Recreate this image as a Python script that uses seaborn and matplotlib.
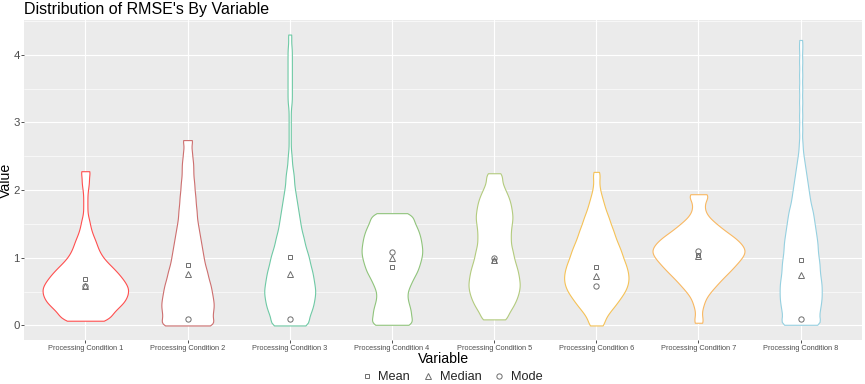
import numpy as np
import pandas as pd
import matplotlib
matplotlib.use("Agg")
import matplotlib.pyplot as plt
import seaborn as sns
from matplotlib.lines import Line2D

# --- data ---
conditions = ["Processing Condition 1", "Processing Condition 2", "Processing Condition 3",
              "Processing Condition 4", "Processing Condition 5", "Processing Condition 6",
              "Processing Condition 7", "Processing Condition 8"]
colors = ["#FF4F4F", "#CD6F6F", "#6FC9A5", "#90C47C", "#B3CB7E", "#F5C257", "#F9B862", "#96D0E0"]

# RMSE values (level, how many runs landed there) per condition
pc1_levels = [0.07, 0.15, 0.25, 0.35, 0.45, 0.55, 0.65, 0.75, 0.85, 0.95, 1.05, 1.15,
              1.25, 1.35, 1.45, 1.55, 1.65, 1.75, 1.85, 1.95, 2.05, 2.15, 2.28]
pc1_counts = [18, 23, 31, 38, 41, 42, 38, 33, 27, 20, 15, 12, 10, 7, 5, 4, 2, 2, 2, 2, 3, 4, 6]

pc2_levels = [0.0, 0.1, 0.2, 0.3, 0.4, 0.5, 0.6, 0.7, 0.8, 0.9, 1.0, 1.1, 1.2, 1.3,
              1.4, 1.5, 1.6, 1.7, 1.8, 1.9, 2.0, 2.1, 2.2, 2.3, 2.4, 2.5, 2.6, 2.74]
pc2_counts = [26, 21, 22, 23, 22, 21, 20, 18, 17, 15, 14, 13, 12, 11, 10, 9, 8, 8, 7, 7,
              6, 6, 5, 5, 5, 4, 4, 6]

pc3_levels = [0.0, 0.1, 0.2, 0.3, 0.4, 0.5, 0.6, 0.7, 0.8, 0.9, 1.0, 1.1, 1.2, 1.3, 1.4,
              1.5, 1.6, 1.7, 1.8, 1.9, 2.0, 2.1, 2.2, 2.3, 2.4, 2.5, 2.6, 2.7, 2.8, 2.9,
              3.0, 3.1, 3.2, 3.3, 3.4, 3.5, 3.6, 3.7, 3.8, 3.9, 4.0, 4.1, 4.2, 4.3]
pc3_counts = [19, 17, 20, 22, 23, 24, 23, 22, 21, 19, 18, 16, 14, 13, 11, 10, 9, 8, 7, 6,
              5, 4, 4, 3, 2, 2, 1, 1, 1, 1, 1, 1, 1, 2, 2, 2, 2, 2, 2, 2, 2, 2, 1, 2]

pc4_levels = [0.01, 0.1, 0.2, 0.3, 0.4, 0.5, 0.6, 0.7, 0.8, 0.9, 1.0, 1.1, 1.2, 1.3,
              1.4, 1.5, 1.6, 1.66]
pc4_counts = [20, 18, 19, 17, 15, 15, 18, 21, 25, 27, 29, 30, 29, 28, 26, 23, 18, 12]

pc5_levels = [0.09, 0.2, 0.3, 0.4, 0.5, 0.6, 0.7, 0.8, 0.9, 1.0, 1.1, 1.2, 1.3, 1.4,
              1.5, 1.6, 1.7, 1.8, 1.9, 2.0, 2.1, 2.2, 2.25]
pc5_counts = [14, 15, 19, 22, 24, 25, 24, 23, 21, 19, 18, 16, 16, 16, 17, 18, 17, 16, 14,
              11, 8, 6, 5]

pc6_levels = [0.0, 0.1, 0.2, 0.3, 0.4, 0.5, 0.6, 0.7, 0.8, 0.9, 1.0, 1.1, 1.2, 1.3,
              1.4, 1.5, 1.6, 1.7, 1.8, 1.9, 2.0, 2.1, 2.2, 2.27]
pc6_counts = [8, 9, 14, 20, 25, 30, 33, 34, 33, 31, 28, 26, 23, 20, 18, 15, 13, 10, 8, 6,
              4, 3, 3, 3]

pc7_levels = [0.04, 0.1, 0.2, 0.3, 0.4, 0.5, 0.6, 0.7, 0.8, 0.9, 1.0, 1.1, 1.2, 1.3,
              1.4, 1.5, 1.6, 1.7, 1.8, 1.9, 1.94]
pc7_counts = [4, 3, 3, 5, 7, 12, 18, 24, 31, 37, 43, 47, 43, 36, 26, 18, 10, 6, 6, 6, 8]

pc8_levels = [0.01, 0.1, 0.2, 0.3, 0.4, 0.5, 0.6, 0.7, 0.8, 0.9, 1.0, 1.1, 1.2, 1.3,
              1.4, 1.5, 1.6, 1.7, 1.8, 1.9, 2.0, 2.1, 2.2, 2.3, 2.4, 2.5, 2.6, 2.7,
              2.8, 2.9, 3.0, 3.1, 3.2, 3.3, 3.4, 3.5, 3.6, 3.7, 3.8, 3.9, 4.0, 4.1, 4.22]
pc8_counts = [21, 17, 19, 20, 21, 21, 21, 20, 19, 19, 18, 17, 17, 16, 15, 14, 13, 12, 10,
              9, 8, 7, 6, 5, 4, 3, 2, 2, 1, 2, 1, 2, 1, 2, 1, 2, 1, 2, 1, 2, 1, 2, 2]

mean_vals = [0.69, 0.89, 1.01, 0.87, 0.96, 0.86, 1.04, 0.97]
median_vals = [0.59, 0.76, 0.76, 0.99, 0.97, 0.73, 1.03, 0.74]
mode_vals = [0.59, 0.10, 0.09, 1.09, 1.00, 0.59, 1.10, 0.09]

levels = [pc1_levels, pc2_levels, pc3_levels, pc4_levels,
          pc5_levels, pc6_levels, pc7_levels, pc8_levels]
counts = [pc1_counts, pc2_counts, pc3_counts, pc4_counts,
          pc5_counts, pc6_counts, pc7_counts, pc8_counts]

frames = []
for cond, lv, ct in zip(conditions, levels, counts):
    vals = np.repeat(lv, ct)
    frames.append(pd.DataFrame({"Variable": cond, "Value": vals}))
df = pd.concat(frames, ignore_index=True)

# --- style (ggplot-ish) ---
sns.set_theme(style="darkgrid", rc={
    "axes.facecolor": "#EBEBEB",
    "grid.color": "white",
    "axes.edgecolor": "#EBEBEB",
})
plt.rcParams["font.family"] = ["Liberation Sans", "DejaVu Sans"]


def fixed_bw(kde):
    # same absolute bandwidth for every violin
    return 0.07 / np.std(kde.dataset, ddof=1)


fig = plt.figure(figsize=(8.65, 3.84), dpi=100)
ax = fig.add_axes([24 / 865, 1 - 340 / 384, (862 - 24) / 865, (340 - 20) / 384])

sns.violinplot(data=df, x="Variable", y="Value", hue="Variable", order=conditions,
               hue_order=conditions, palette=colors, saturation=1, cut=0, inner=None,
               density_norm="area", common_norm=True, width=0.9, linewidth=0.8,
               bw_method=fixed_bw, legend=False, ax=ax)

# white body, coloured outline
for coll in ax.collections:
    fc = coll.get_facecolor()
    coll.set_edgecolor(fc)
    coll.set_facecolor("white")

gray = "#6E6E6E"
for vals, mk, ms in [(mean_vals, "s", 3.5), (median_vals, "^", 4.2), (mode_vals, "o", 3.8)]:
    sns.pointplot(x=conditions, y=vals, order=conditions, linestyles="none", markers=mk,
                  color=gray, errorbar=None, ax=ax)
    ln = ax.lines[-1]
    ln.set_markerfacecolor("none")
    ln.set_markeredgecolor(gray)
    ln.set_markersize(ms)
    ln.set_markeredgewidth(0.7)

ax.set_xlim(-0.6, 7.6)
ax.set_ylim(-0.215, 4.515)
ax.set_yticks([0, 1, 2, 3, 4])
ax.set_yticks([0.5, 1.5, 2.5, 3.5, 4.5], minor=True)
ax.grid(which="major", color="white", linewidth=0.85)
ax.grid(which="minor", axis="y", color="white", linewidth=0.45)
ax.set_axisbelow(True)
for s in ax.spines.values():
    s.set_visible(False)

ax.tick_params(axis="both", which="major", bottom=True, left=True, length=2.2, width=0.6,
               color="#333333", labelcolor="#4D4D4D")
ax.tick_params(axis="x", labelsize=5.3, pad=1.5)
ax.tick_params(axis="y", labelsize=8.2, pad=0.8)
ax.tick_params(which="minor", length=0)

ax.set_xlabel("Variable", fontsize=10.2, color="black", labelpad=0)
ax.set_ylabel("Value", fontsize=10.2, color="black")
ax.yaxis.set_label_coords(-0.013, 0.5)
ax.set_title("Distribution of RMSE's By Variable", loc="left", fontsize=11.5,
             color="black", pad=4)

handles = [
    Line2D([], [], marker="s", ls="none", mfc="none", mec=gray, ms=3.5, mew=0.7),
    Line2D([], [], marker="^", ls="none", mfc="none", mec=gray, ms=4.2, mew=0.7),
    Line2D([], [], marker="o", ls="none", mfc="none", mec=gray, ms=3.8, mew=0.7),
]
fig.legend(handles, ["Mean", "Median", "Mode"], loc="center", bbox_to_anchor=(0.522, 0.017),
           ncol=3, frameon=False, fontsize=9.2, handlelength=1.0, handletextpad=0.4,
           columnspacing=0.9)

fig.savefig("out.png", dpi=100)
